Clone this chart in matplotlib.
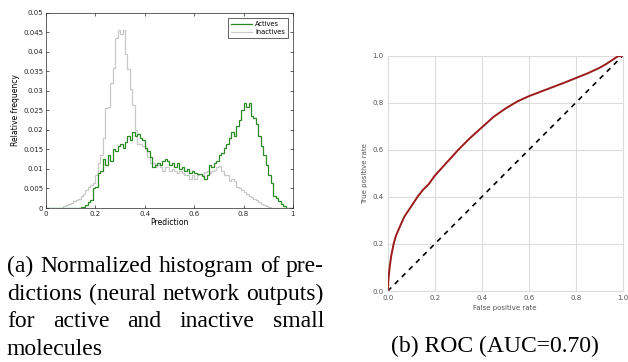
import numpy as np
import matplotlib
matplotlib.use("Agg")
from matplotlib import pyplot as plt
from matplotlib.ticker import FormatStrFormatter

# histogram of network outputs, 100 bins of width 0.01
bin_edges = np.linspace(0, 1, 101)

actives = [
    0, 0, 0, 0, 0, 0, 0, 0.0001, 0.0001, 0.0001,
    0.0001, 0.0001, 0.0001, 0.0001, 0.0002, 0.0003, 0.0008, 0.0015, 0.002, 0.005,
    0.0055, 0.009, 0.0095, 0.0125, 0.011, 0.0135, 0.012, 0.015, 0.0145, 0.016,
    0.0165, 0.0155, 0.017, 0.0185, 0.0175, 0.0195, 0.0185, 0.019, 0.018, 0.0175,
    0.0155, 0.0145, 0.013, 0.0105, 0.011, 0.0115, 0.011, 0.012, 0.0125, 0.012,
    0.011, 0.0115, 0.0105, 0.0115, 0.01, 0.0105, 0.0095, 0.01, 0.009, 0.0095,
    0.009, 0.0088, 0.0088, 0.0082, 0.0075, 0.0085, 0.011, 0.0105, 0.0115, 0.012,
    0.0135, 0.014, 0.0155, 0.0165, 0.018, 0.0195, 0.0185, 0.021, 0.0225, 0.025,
    0.027, 0.026, 0.027, 0.0235, 0.023, 0.0215, 0.0185, 0.016, 0.0135, 0.011,
    0.0085, 0.0065, 0.003, 0.0025, 0.0018, 0.001, 0.0004, 0.0001, 0, 0,
]

inactives = [
    0.0001, 0.0001, 0.0001, 0.0001, 0.0001, 0.0001, 0.0001, 0.0005, 0.0007, 0.001,
    0.0013, 0.0017, 0.002, 0.0023, 0.003, 0.0035, 0.0045, 0.0055, 0.006, 0.0065,
    0.0085, 0.0115, 0.0135, 0.018, 0.0255, 0.026, 0.032, 0.036, 0.0435, 0.0455,
    0.0445, 0.0455, 0.0395, 0.0355, 0.0305, 0.0265, 0.02, 0.0165, 0.0165, 0.016,
    0.015, 0.013, 0.0115, 0.0115, 0.0105, 0.011, 0.0105, 0.0095, 0.0105, 0.0105,
    0.0095, 0.01, 0.0095, 0.009, 0.0095, 0.009, 0.0085, 0.0085, 0.0075, 0.0085,
    0.0075, 0.0085, 0.0088, 0.0085, 0.0092, 0.0095, 0.009, 0.0095, 0.0098, 0.0105,
    0.0108, 0.0095, 0.0085, 0.0085, 0.007, 0.0075, 0.0068, 0.0055, 0.005, 0.0045,
    0.004, 0.0035, 0.003, 0.0028, 0.0023, 0.002, 0.0015, 0.001, 0.0007, 0.0005,
    0.0003, 0.0001, 0, 0, 0, 0, 0, 0, 0, 0,
]

# ROC curve
fpr = [0, 0.003, 0.008, 0.015, 0.025, 0.035, 0.05, 0.07, 0.09, 0.11, 0.13,
       0.15, 0.175, 0.2, 0.25, 0.3, 0.35, 0.4, 0.45, 0.5, 0.55, 0.6, 0.65,
       0.7, 0.75, 0.8, 0.85, 0.9, 0.93, 0.96, 0.98, 1.0]
tpr = [0, 0.05, 0.10, 0.15, 0.20, 0.235, 0.27, 0.315, 0.345, 0.375, 0.405,
       0.43, 0.455, 0.49, 0.545, 0.60, 0.65, 0.695, 0.74, 0.775, 0.805, 0.828,
       0.847, 0.866, 0.885, 0.905, 0.925, 0.948, 0.965, 0.985, 0.998, 1.0]

fig = plt.figure(figsize=(6.28, 3.62), dpi=100)

# left: matlab-looking histogram
ax1 = fig.add_axes([0.0732, 0.4254, 0.3933, 0.539])
ax1.stairs(actives, bin_edges, color='#2a8a22', lw=0.9, label='Actives', zorder=3)
ax1.stairs(inactives, bin_edges, color='#c8c8c8', lw=0.9, label='Inactives', zorder=2)
ax1.set_xlim(0, 1)
ax1.set_ylim(0, 0.05)
ax1.set_xticks(np.arange(0, 1.01, 0.2))
ax1.set_yticks(np.arange(0, 0.0501, 0.005))
ax1.xaxis.set_major_formatter(FormatStrFormatter('%g'))
ax1.yaxis.set_major_formatter(FormatStrFormatter('%g'))
ax1.tick_params(direction='in', top=True, right=True, length=2.5, width=0.5,
                labelsize=5, colors='#262626', pad=2)
for s in ax1.spines.values():
    s.set_linewidth(0.5)
    s.set_color('#262626')
ax1.set_xlabel('Prediction', fontsize=5.5, labelpad=1)
ax1.set_ylabel('Relative frequency', fontsize=5.5, labelpad=2)
leg = ax1.legend(loc='upper right', fontsize=4.8, fancybox=False, framealpha=1,
                 handlelength=3.2, borderpad=0.4, labelspacing=0.3,
                 borderaxespad=0.8, handletextpad=0.4)
leg.get_frame().set_edgecolor('#262626')
leg.get_frame().set_linewidth(0.5)

# right: seaborn-whitegrid-looking ROC
ax2 = fig.add_axes([0.6174, 0.196, 0.3742, 0.650])
ax2.plot([0, 1], [0, 1], color='black', lw=1.2, ls=(0, (3, 3)), zorder=2)
ax2.plot(fpr, tpr, color='#9b1a1a', lw=1.4, zorder=3)
ax2.set_xlim(0, 1)
ax2.set_ylim(0, 1)
ax2.set_xticks(np.arange(0, 1.01, 0.2))
ax2.set_yticks(np.arange(0, 1.01, 0.2))
ax2.xaxis.set_major_formatter(FormatStrFormatter('%.1f'))
ax2.yaxis.set_major_formatter(FormatStrFormatter('%.1f'))
ax2.grid(True, color='#dcdcdc', lw=0.8, zorder=0)
ax2.set_axisbelow(True)
ax2.tick_params(length=0, labelsize=5, colors='#555555', pad=3)
for s in ax2.spines.values():
    s.set_color('#dcdcdc')
    s.set_linewidth(0.8)
ax2.set_xlabel('False positive rate', fontsize=5, color='#555555', labelpad=3)
ax2.set_ylabel('True positive rate', fontsize=5, color='#555555', labelpad=3)

# captions, justified by hand
serif = 'Liberation Serif'
cap_size = 17
lines = ['(a) Normalized histogram of pre-',
         'dictions (neural network outputs)',
         'for active and inactive small',
         'molecules']
x0, x1 = 7, 324
base = [272, 300, 327, 355]
W, H = fig.get_size_inches() * fig.dpi
renderer = fig.canvas.get_renderer()
for i, line in enumerate(lines):
    y = 1 - base[i] / H
    words = line.split(' ')
    if i == len(lines) - 1:
        fig.text(x0 / W, y, line, family=serif, fontsize=cap_size, va='baseline')
        continue
    widths = []
    for w in words:
        t = fig.text(0, 0, w, family=serif, fontsize=cap_size)
        widths.append(t.get_window_extent(renderer).width)
        t.remove()
    gap = (x1 - x0 - sum(widths)) / (len(words) - 1)
    xp = x0
    for w, wd in zip(words, widths):
        fig.text(xp / W, y, w, family=serif, fontsize=cap_size, va='baseline')
        xp += wd + gap

fig.text(495 / W, 1 - 352 / H, '(b) ROC (AUC=0.70)', family=serif,
         fontsize=cap_size, ha='center', va='baseline')

fig.savefig('out.png', dpi=100)
